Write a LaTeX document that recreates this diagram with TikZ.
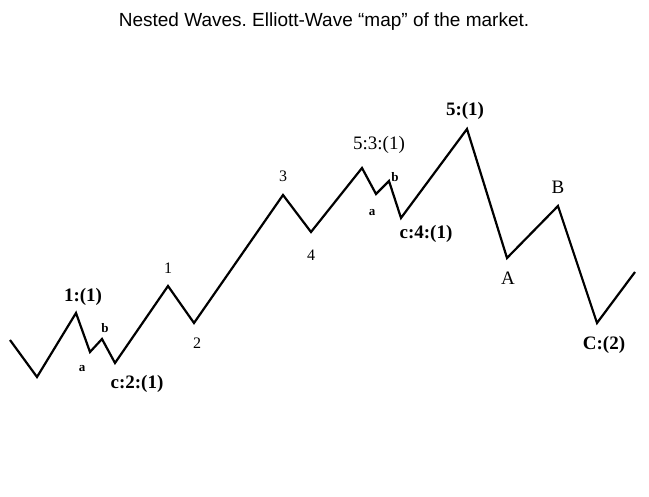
\documentclass[tikz,border=0pt]{standalone}
\usepackage{fontspec}
\setmainfont{Liberation Serif}
\newfontfamily\arialf{Liberation Sans}
\frenchspacing
\begin{document}
\begin{tikzpicture}[x=1pt,y=-1pt,
  wave/.style={line width=2.2pt,line join=miter},
  big/.style={font=\fontsize{19}{19}\selectfont\bfseries,inner sep=0pt},
  bign/.style={font=\fontsize{19}{19}\selectfont,inner sep=0pt},
  small/.style={font=\fontsize{16}{16}\selectfont,inner sep=0pt},
  tiny/.style={font=\fontsize{13}{13}\selectfont\bfseries,inner sep=0pt}]
\useasboundingbox[fill=white] (0,0) rectangle (649,497);
\node[font=\arialf\fontsize{19}{19}\selectfont,inner sep=0pt] (title) at (324,22) {Nested Waves. Elliott-Wave “map” of the market.};
% vertices
\coordinate (p0) at (10,340);
\coordinate (p1) at (37,377);
\coordinate (p2) at (76,313);
\coordinate (p3) at (90,352);
\coordinate (p4) at (102,339);
\coordinate (p5) at (115,363);
\coordinate (p6) at (168,286);
\coordinate (p7) at (194,323);
\coordinate (p8) at (283,195);
\coordinate (p9) at (311,232);
\coordinate (p10) at (362,168);
\coordinate (p11) at (376,194);
\coordinate (p12) at (389,181);
\coordinate (p13) at (401,218);
\coordinate (p14) at (467,129);
\coordinate (p15) at (507,258);
\coordinate (p16) at (558,206);
\coordinate (p17) at (597,323);
\coordinate (p18) at (635,272);
\draw[wave] (p0)--(p1)--(p2)--(p3)--(p4)--(p5)--(p6)--(p7)--(p8)--(p9)--(p10)--(p11)--(p12)--(p13)--(p14)--(p15)--(p16)--(p17)--(p18);
% labels
\node[big] (l11) at (83,297) {1:(1)};
\node[tiny] (la1) at (82,369) {a};
\node[tiny] (lb1) at (105,328) {b};
\node[big] (lc2) at (137,384) {c:2:(1)};
\node[small] (l1) at (168,268) {1};
\node[small] (l2) at (197,343) {2};
\node[small] (l3) at (283,176) {3};
\node[small] (l4) at (311,255) {4};
\node[bign] (l53) at (379,145) {5:3:(1)};
\node[tiny] (la2) at (372,213) {a};
\node[tiny] (lb2) at (395,177) {b};
\node[big] (lc4) at (426,234) {c:4:(1)};
\node[big] (l51) at (465,111) {5:(1)};
\node[bign] (lA) at (508,278) {A};
\node[bign] (lB) at (558,187) {B};
\node[big] (lC) at (604,345) {C:(2)};
\end{tikzpicture}
\end{document}
